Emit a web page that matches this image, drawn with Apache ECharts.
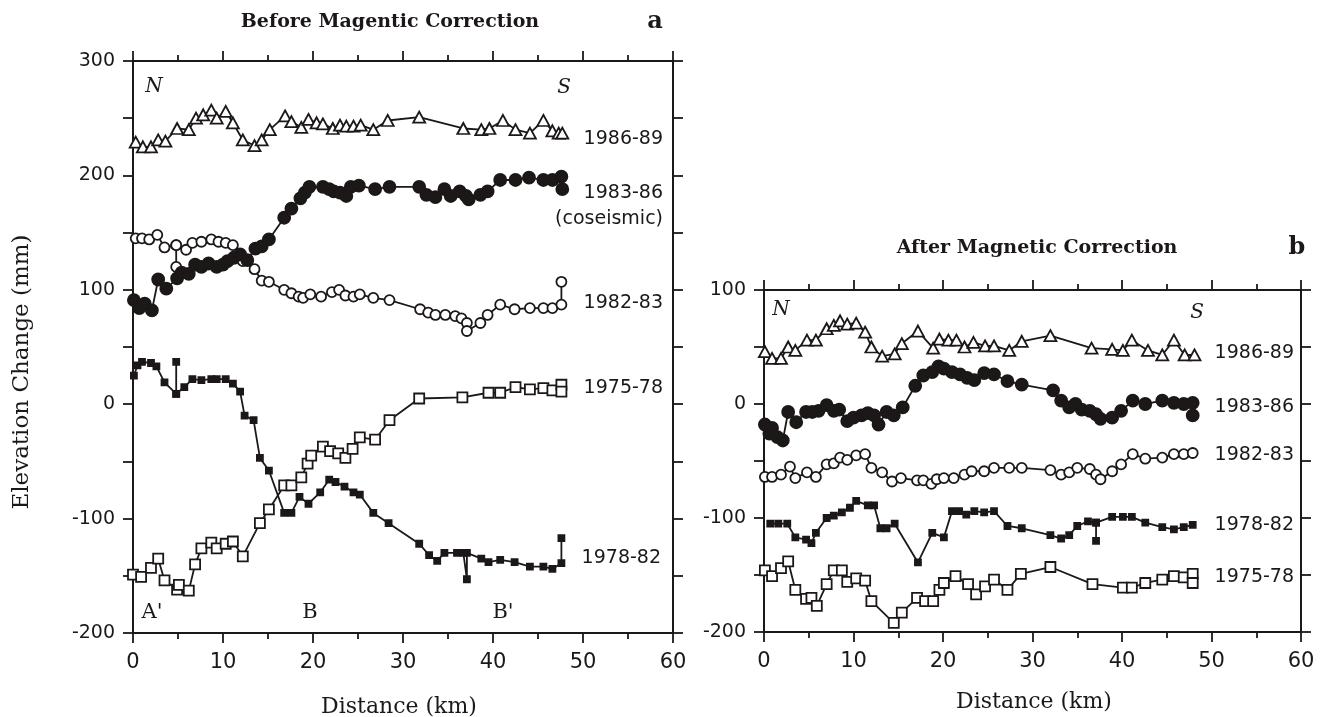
<!DOCTYPE html>
<html>
<head>
<meta charset="utf-8">
<script src="https://cdn.jsdelivr.net/npm/echarts@6/dist/echarts.min.js"></script>
<style>
  html, body { margin: 0; padding: 0; background: #fff; }
  #chart { width: 1326px; height: 717px; }
</style>
</head>
<body>
<div id="chart"></div>
<script>
// Levelling-line elevation changes along the profile A'-B-B'.
// Distances in km, elevation change in mm.

// ---- a: before magnetic correction ----
const a8689Km = [0.3,1.1,2.0,2.8,3.6,4.9,6.2,7.0,7.8,8.7,9.3,10.3,11.1,12.2,13.5,14.3,15.2,16.9,17.6,18.7,19.5,20.4,21.1,22.2,23.0,23.7,24.5,25.3,26.7,28.3,31.8,36.7,38.7,39.6,41.1,42.5,44.1,45.6,46.6,47.3,47.7];
const a8689Mm = [229,225,225,231,230,241,240,250,253,257,250,256,246,231,226,231,240,252,247,242,249,246,245,241,244,243,243,244,240,248,251,241,240,241,248,240,237,248,239,237,237];

const a8386Km = [0.1,0.7,1.3,2.1,2.8,3.7,4.9,5.4,6.2,6.9,7.6,8.4,9.3,10.0,10.5,11.2,11.9,12.7,13.6,14.3,15.1,16.8,17.6,18.6,19.1,19.6,21.1,21.8,22.3,23.0,23.7,24.2,25.1,26.9,28.5,31.8,32.6,33.6,34.6,35.3,36.3,37.0,37.3,38.6,39.4,40.8,42.5,44.0,45.6,46.6,47.6,47.7];
const a8386Mm = [91,84,88,82,109,101,110,115,114,122,120,123,120,122,125,128,131,126,136,138,144,163,171,180,185,190,190,188,186,185,182,190,191,188,190,190,183,181,188,182,186,182,179,183,186,196,196,198,196,196,199,188];

const a8283Km = [0.3,1.0,1.8,2.7,3.5,4.8,4.8,4.8,5.9,6.6,7.6,8.7,9.5,10.3,11.1,12.2,13.5,14.3,15.1,16.8,17.6,18.4,18.9,19.7,20.9,22.1,22.9,23.6,24.5,25.2,26.7,28.5,31.9,32.8,33.6,34.7,35.8,36.5,37.1,37.1,38.6,39.4,40.8,42.4,44.1,45.6,46.6,47.6,47.6];
const a8283Mm = [145,145,144,148,137,139,120,139,135,141,142,144,142,141,139,125,118,108,107,100,97,94,93,96,94,98,100,95,94,96,93,91,83,80,78,78,77,75,71,64,71,78,87,83,84,84,84,87,107];

const a7578Km = [0,0.9,2.0,2.8,3.5,4.9,5.1,6.2,6.9,7.6,8.7,9.3,10.3,11.1,12.2,14.1,15.1,16.8,17.6,18.7,19.4,19.8,21.1,21.9,22.8,23.6,24.4,25.2,26.9,28.5,31.8,36.6,39.5,40.8,42.5,44.1,45.6,46.6,47.6,47.6];
const a7578Mm = [-149,-151,-143,-135,-154,-162,-158,-163,-140,-126,-121,-126,-122,-120,-133,-104,-92,-71,-71,-64,-52,-45,-37,-41,-43,-47,-39,-29,-31,-14,5,6,10,10,15,13,14,12,17,11];

const a7882Km = [0.1,0.5,1.0,2.0,2.6,3.5,4.8,4.8,4.8,5.7,6.6,7.6,8.7,9.3,10.3,11.1,11.9,12.4,13.4,14.1,15.1,16.8,17.6,18.5,19.5,20.8,21.8,22.5,23.5,24.5,25.2,26.7,28.4,31.8,32.9,33.8,34.6,36.0,36.7,37.1,37.1,38.7,39.5,40.8,42.4,44.1,45.6,46.6,47.6,47.6];
const a7882Mm = [25,34,37,36,33,19,9,37,9,15,22,21,22,22,22,18,11,-10,-14,-47,-58,-95,-95,-81,-87,-77,-66,-68,-72,-77,-79,-95,-104,-122,-132,-137,-130,-130,-130,-153,-130,-135,-138,-136,-138,-142,-142,-144,-139,-117];

// ---- b: after magnetic correction ----
const b8689Km = [0.1,0.9,1.9,2.7,3.5,4.8,5.8,7.0,7.8,8.5,9.3,10.3,11.3,12.0,13.2,14.6,15.4,17.2,18.9,19.6,20.6,21.5,22.4,23.4,24.7,25.7,27.4,28.8,32.0,36.6,38.9,40.1,41.1,42.9,44.5,45.8,47.0,48.1];
const b8689Mm = [46,40,40,50,47,56,56,66,69,73,70,71,63,50,42,44,53,64,49,57,56,56,50,54,51,51,47,55,60,49,48,47,56,47,43,56,43,43];

const b8386Km = [0.1,0.6,0.9,1.5,2.1,2.7,3.6,4.7,5.4,6.1,7.0,7.8,8.4,9.3,10.0,10.9,11.6,12.3,12.8,13.7,14.5,15.5,16.9,17.8,18.8,19.5,20.1,21.0,21.9,22.7,23.5,24.6,25.7,27.2,28.8,32.3,33.2,34.1,34.8,35.5,36.4,37.1,37.6,38.9,39.9,41.2,42.6,44.5,45.8,46.9,47.9,47.9];
const b8386Mm = [-18,-26,-21,-29,-32,-7,-16,-7,-7,-6,-1,-6,-5,-15,-12,-10,-8,-10,-18,-7,-10,-3,16,25,28,33,31,28,26,23,21,27,26,20,17,12,3,-3,0,-5,-6,-9,-13,-12,-6,3,0,3,1,0,1,-10];

const b8283Km = [0.1,0.9,1.9,2.9,3.5,4.8,5.8,7.0,7.8,8.5,9.3,10.3,11.3,12.0,13.2,14.3,15.3,17.1,17.8,18.7,19.3,20.1,21.2,22.4,23.2,24.6,25.7,27.4,28.8,32.0,33.2,34.1,35.0,36.4,37.1,37.6,38.9,39.9,41.2,42.6,44.5,45.8,46.9,47.9];
const b8283Mm = [-64,-64,-62,-55,-65,-60,-64,-53,-52,-47,-49,-45,-44,-56,-60,-68,-65,-67,-67,-70,-66,-65,-65,-62,-59,-59,-56,-56,-56,-58,-62,-60,-56,-57,-62,-66,-59,-53,-44,-48,-47,-44,-44,-43];

const b7882Km = [0.7,1.6,2.6,3.5,4.7,5.3,5.8,7.0,7.8,8.7,9.6,10.3,11.6,12.3,13.0,13.7,14.6,17.2,18.8,20.1,21.0,21.8,22.6,23.5,24.6,25.7,27.2,28.8,32.0,33.2,34.1,35.0,36.2,37.1,37.1,37.1,38.9,40.1,41.1,42.6,44.5,45.8,46.9,47.9];
const b7882Mm = [-105,-105,-105,-117,-119,-122,-113,-100,-98,-95,-91,-85,-89,-89,-109,-109,-105,-139,-113,-117,-94,-94,-97,-94,-95,-94,-107,-109,-115,-118,-115,-107,-103,-104,-120,-104,-99,-99,-99,-104,-108,-110,-108,-106];

const b7578Km = [0.1,0.9,1.9,2.7,3.5,4.7,5.3,5.9,7.0,7.8,8.7,9.3,10.3,11.3,12.0,14.5,15.4,17.1,18.0,18.9,19.6,20.1,21.4,22.8,23.7,24.7,25.7,27.2,28.7,32.0,36.7,40.1,41.1,42.6,44.5,45.8,46.9,47.9,47.9];
const b7578Mm = [-146,-151,-144,-138,-163,-171,-170,-177,-158,-146,-146,-156,-153,-155,-173,-192,-183,-170,-173,-173,-163,-157,-151,-158,-167,-160,-154,-163,-149,-143,-158,-161,-161,-157,-154,-151,-152,-149,-157];

// axis ranges
const distRange = [0, 60];
const rangeA = [-200, 300];
const rangeB = [-200, 100];

const INK = '#1c1818';
const SERIF = "'DejaVu Serif', 'Liberation Serif', serif";
const SANS = "'DejaVu Sans', 'Liberation Sans', sans-serif";

const zip = (km, mm) => km.map((d, i) => [d, mm[i]]);

const MARKERS = {
  triangle: { symbol: 'triangle', size: [12, 11], fill: '#fff' },
  dot:      { symbol: 'circle',   size: 12,       fill: INK },
  ring:     { symbol: 'circle',   size: 10,       fill: '#fff' },
  block:    { symbol: 'rect',     size: 6,        fill: INK },
  box:      { symbol: 'rect',     size: 10,       fill: '#fff' }
};

function profile(name, panel, km, mm, kind) {
  const m = MARKERS[kind];
  return {
    name, type: 'line',
    xAxisIndex: panel * 2, yAxisIndex: panel * 2,
    data: zip(km, mm),
    symbol: m.symbol, symbolSize: m.size, showAllSymbol: true,
    lineStyle: { color: INK, width: 1.8 },
    itemStyle: { color: m.fill, borderColor: INK, borderWidth: 1.8 },
    silent: true, animation: false
  };
}

function xAxisFor(panel, top) {
  return {
    type: 'value', gridIndex: panel, position: top ? 'top' : 'bottom',
    min: distRange[0], max: distRange[1], interval: 10,
    axisLine: { show: true, onZero: false, lineStyle: { color: INK, width: 2 } },
    axisTick: { show: true, length: 10, lineStyle: { color: INK, width: 1.8 } },
    minorTick: { show: true, splitNumber: 2, length: 6, lineStyle: { color: INK, width: 1.8 } },
    splitLine: { show: false }, minorSplitLine: { show: false },
    axisLabel: { show: !top, color: INK, fontFamily: SANS, fontSize: 21, margin: 19 }
  };
}

function yAxisFor(panel, right, range) {
  return {
    type: 'value', gridIndex: panel, position: right ? 'right' : 'left',
    min: range[0], max: range[1], interval: 50,
    axisLine: { show: true, onZero: false, lineStyle: { color: INK, width: 2 } },
    axisTick: { show: true, length: 10, lineStyle: { color: INK, width: 1.8 } },
    splitLine: { show: false },
    axisLabel: {
      show: !right, color: INK, fontFamily: SANS, fontSize: 19, margin: 18,
      formatter: v => (v % 100 === 0 ? String(v) : '')
    }
  };
}

function txt(text, x, y, opts) {
  return {
    type: 'text', x, y, silent: true, rotation: (opts && opts.rotation) || 0,
    style: Object.assign({
      text, fill: INK, fontFamily: SERIF, fontSize: 20,
      textAlign: 'left', textVerticalAlign: 'middle'
    }, opts && opts.style)
  };
}

const seriesLabel = (t, x, y) => txt(t, x, y, { style: { fontFamily: SANS, fontSize: 19, textAlign: 'right' } });
const italic = (t, x, y) => txt(t, x, y, { style: { fontStyle: 'italic', fontSize: 20, textAlign: 'center' } });

const chart = echarts.init(document.getElementById('chart'), null, { renderer: 'canvas' });
chart.setOption({
  backgroundColor: '#ffffff',
  animation: false,
  grid: [
    { left: 133, top: 61, width: 540, height: 572, outerBoundsMode: 'none' },
    { left: 764, top: 290, width: 537, height: 342, outerBoundsMode: 'none' }
  ],
  xAxis: [xAxisFor(0, false), xAxisFor(0, true), xAxisFor(1, false), xAxisFor(1, true)],
  yAxis: [yAxisFor(0, false, rangeA), yAxisFor(0, true, rangeA), yAxisFor(1, false, rangeB), yAxisFor(1, true, rangeB)],
  series: [
    profile('1986-89', 0, a8689Km, a8689Mm, 'triangle'),
    profile('1982-83', 0, a8283Km, a8283Mm, 'ring'),
    profile('1983-86', 0, a8386Km, a8386Mm, 'dot'),
    profile('1975-78', 0, a7578Km, a7578Mm, 'box'),
    profile('1978-82', 0, a7882Km, a7882Mm, 'block'),
    profile('1986-89', 1, b8689Km, b8689Mm, 'triangle'),
    profile('1983-86', 1, b8386Km, b8386Mm, 'dot'),
    profile('1982-83', 1, b8283Km, b8283Mm, 'ring'),
    profile('1978-82', 1, b7882Km, b7882Mm, 'block'),
    profile('1975-78', 1, b7578Km, b7578Mm, 'box')
  ],
  graphic: [
    txt('Before Magentic Correction', 390, 22, { style: { fontSize: 19, fontWeight: 'bold', textAlign: 'center' } }),
    txt('a', 655, 22, { style: { fontSize: 24, fontWeight: 'bold', textAlign: 'center' } }),
    txt('After Magnetic Correction', 1037, 248, { style: { fontSize: 19, fontWeight: 'bold', textAlign: 'center' } }),
    txt('b', 1297, 248, { style: { fontSize: 24, fontWeight: 'bold', textAlign: 'center' } }),
    txt('Elevation Change (mm)', 22, 372, { rotation: Math.PI / 2, style: { fontSize: 23, textAlign: 'center' } }),
    txt('Distance (km)', 399, 707, { style: { fontSize: 22, textAlign: 'center' } }),
    txt('Distance (km)', 1034, 702, { style: { fontSize: 22, textAlign: 'center' } }),
    italic('N', 154, 87), italic('S', 564, 88),
    italic('N', 781, 310), italic('S', 1197, 313),
    txt("A'", 152, 613, { style: { fontSize: 21, textAlign: 'center' } }),
    txt('B', 310, 613, { style: { fontSize: 21, textAlign: 'center' } }),
    txt("B'", 503, 613, { style: { fontSize: 21, textAlign: 'center' } }),
    seriesLabel('1986-89', 663, 139),
    seriesLabel('1983-86', 663, 193),
    seriesLabel('(coseismic)', 663, 219),
    seriesLabel('1982-83', 663, 303),
    seriesLabel('1975-78', 663, 388),
    seriesLabel('1978-82', 661, 558),
    seriesLabel('1986-89', 1294, 353),
    seriesLabel('1983-86', 1294, 407),
    seriesLabel('1982-83', 1294, 455),
    seriesLabel('1978-82', 1294, 525),
    seriesLabel('1975-78', 1294, 577)
  ]
});
</script>
</body>
</html>
